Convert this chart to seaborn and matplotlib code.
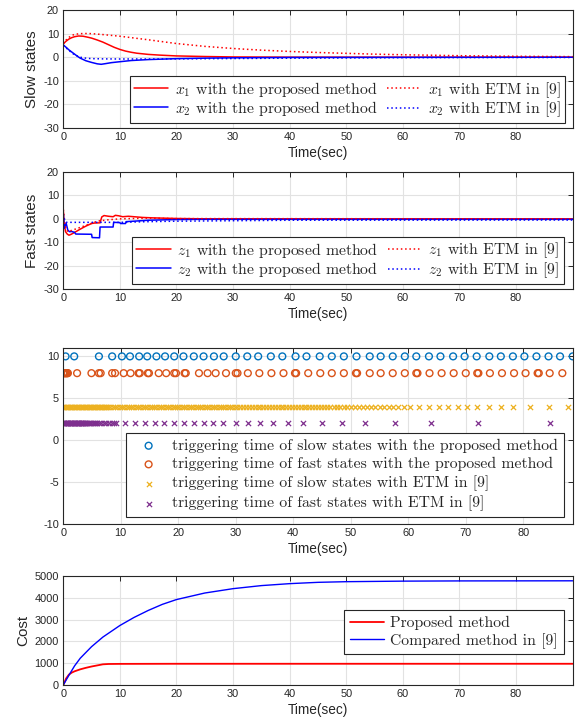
import matplotlib
matplotlib.use("Agg")
import matplotlib.pyplot as plt
import seaborn as sns

# ---------------- data ----------------
# Panel 1: slow states
t_x1_prop = [0, 0.5, 1, 1.5, 2, 2.7, 3.5, 4.3, 5, 6, 7, 8, 9, 10, 11, 12, 13, 14, 15, 17, 20, 25, 30, 40, 90]
x1_prop = [5.7, 6.8, 7.7, 8.3, 8.7, 9.0, 8.9, 8.5, 8.1, 7.3, 6.4, 5.3, 4.2, 3.3, 2.6, 2.1, 1.7, 1.45, 1.2, 0.9, 0.55, 0.3, 0.12, 0.03, 0.0]
t_x1_etm = [0, 0.5, 1, 1.5, 2, 3, 4, 5, 7, 10, 15, 20, 25, 30, 35, 40, 45, 50, 55, 60, 70, 80, 90]
x1_etm = [5.7, 7.3, 8.4, 9.2, 9.7, 10.0, 10.05, 10.0, 9.6, 8.9, 7.4, 5.8, 4.6, 3.7, 3.0, 2.45, 2.0, 1.65, 1.3, 1.05, 0.65, 0.4, 0.25]
t_x2_prop = [0, 0.5, 1, 1.5, 2, 2.5, 3, 4, 5, 6, 6.7, 7.5, 8.5, 10, 12, 15, 20, 25, 30, 40, 90]
x2_prop = [5.2, 4.2, 3.1, 2.2, 1.3, 0.4, -0.4, -1.5, -2.2, -2.8, -3.0, -2.7, -2.3, -1.9, -1.4, -1.0, -0.6, -0.4, -0.25, -0.1, 0.0]
t_x2_etm = [0, 0.5, 1, 1.5, 2, 3, 4, 5, 7, 10, 15, 20, 30, 40, 50, 60, 70, 90]
x2_etm = [5.2, 4.0, 2.9, 1.9, 1.0, 0.0, -0.4, -0.6, -0.7, -0.75, -0.75, -0.7, -0.55, -0.4, -0.3, -0.2, -0.15, -0.1]

# Panel 2: fast states
t_z1_prop = [0, 0.15, 0.4, 0.7, 1.0, 1.4, 2, 3, 4, 5, 5.5, 6.5, 6.8, 7.2, 8, 8.8, 9.2, 9.8, 10.5, 11.5, 12.5, 14, 16, 20, 25, 90]
z1_prop = [4.0, -2.0, -5.5, -6.5, -7.0, -6.6, -5.8, -4.4, -3.1, -2.0, -1.8, -1.7, 0.8, 1.4, 1.1, 0.9, 1.5, 1.3, 0.9, 1.1, 0.9, 0.6, 0.4, 0.15, 0.0, 0.0]
t_z1_etm = [0, 0.3, 0.8, 2, 4, 6, 8, 10, 15, 20, 90]
z1_etm = [4.0, -3.0, -5.5, -4.5, -2.8, -1.0, -0.4, 0.0, 0.3, 0.1, 0.0]
t_z2_prop = [0, 0.2, 0.5, 0.8, 1.1, 1.5, 2.0, 2.2, 5.0, 5.1, 6.4, 6.5, 8.8, 8.9, 10.0, 10.1, 11.0, 11.1, 12.5, 15, 20, 25, 90]
z2_prop = [2.0, -4.0, -1.8, -4.8, -5.5, -5.4, -5.8, -6.5, -6.6, -8.0, -8.1, -3.5, -3.5, -1.5, -1.6, -2.0, -2.0, -1.2, -1.0, -0.6, -0.3, -0.2, -0.2]
t_z2_etm = [0, 0.3, 0.6, 10, 15, 20, 30, 40, 90]
z2_etm = [2.0, -1.0, -1.5, -1.5, -1.2, -1.0, -0.8, -0.6, -0.5]

# Panel 3: triggering instants
trig_levels = [10, 8, 4, 2]
trig_slow_prop = [0.4, 1.9, 6.2, 8.5, 10.2, 11.6, 13.2, 14.6, 16.2, 17.7, 19.3, 20.9, 22.7, 24.4, 26.2, 27.9,
                  30.0, 32.0, 33.9, 36.1, 38.1, 40.4, 42.3, 44.6, 46.7, 48.8, 51.0, 53.3, 55.2, 57.3, 59.4,
                  61.4, 63.6, 65.6, 67.8, 69.8, 71.9, 74.1, 76.1, 78.2, 80.2, 82.3, 84.4, 86.4, 88.6]
trig_fast_prop = [0.0, 0.1, 0.2, 0.3, 0.4, 0.5, 0.6, 0.7, 0.8, 2.4, 4.9, 6.2, 6.5, 8.5, 9.0, 10.5, 11.7, 13.1,
                  13.3, 14.7, 14.9, 16.6, 17.9, 19.3, 19.6, 21.1, 21.3, 23.6, 25.1, 26.5, 28.3, 30.0, 30.3,
                  32.1, 34.1, 36.2, 38.3, 40.3, 40.5, 42.6, 44.7, 46.7, 48.8, 50.9, 51.1, 53.3, 55.2, 57.3,
                  59.4, 61.4, 61.6, 63.7, 65.8, 67.9, 70.0, 72.0, 72.2, 74.2, 76.3, 78.4, 80.4, 82.5, 82.7,
                  84.6, 86.8]
trig_slow_etm = [0.0, 0.2, 0.4, 0.6, 0.8, 1.0, 1.2, 1.4, 1.6, 1.8, 2.0, 2.2, 2.4, 2.6, 2.8, 3.0, 3.2, 3.4,
                 3.6, 3.8, 4.0, 4.2, 4.4, 4.6, 4.8, 5.0, 5.2, 5.4, 5.6, 5.8, 6.0, 6.2, 6.4, 6.6, 6.8, 7.0,
                 7.2, 7.4, 7.6, 7.8,
                 8.2, 8.6, 9.0, 9.4, 9.8, 10.2, 10.6, 11.0, 11.4, 11.8, 12.2, 12.6, 13.0, 13.4, 13.8, 14.2,
                 14.6, 15.0, 15.4, 15.8, 16.2, 16.6, 17.0, 17.4, 17.8, 18.2, 18.6, 19.0, 19.4, 19.8, 20.2,
                 20.6, 21.0, 21.4, 21.8, 22.2, 22.6, 23.0, 23.4, 23.8, 24.2, 24.6, 25.0, 25.4, 25.8, 26.2,
                 26.6, 27.0, 27.4, 27.8, 28.2, 28.6, 29.0, 29.4, 29.8,
                 30.3, 30.8, 31.3, 31.8, 32.3, 32.8, 33.3, 33.8, 34.3, 34.8, 35.3, 35.8, 36.3, 36.8, 37.3,
                 37.8, 38.3, 38.8, 39.3, 39.8, 40.3, 40.8, 41.3, 41.8, 42.3, 42.8, 43.3, 43.8, 44.3, 44.8,
                 45.3, 45.8, 46.4, 47.0, 47.6, 48.2, 48.8, 49.4,
                 50.0, 50.7, 51.4, 52.1, 52.8, 53.5, 54.2, 55.0, 55.8, 56.6, 57.4, 58.2, 59.2,
                 60.3, 61.9, 63.6, 65.3, 66.9, 68.7, 70.3, 72.0, 74.1, 76.2, 78.3, 81.2, 84.4, 87.8]
trig_fast_etm = [0.0, 0.1, 0.2, 0.3, 0.4, 0.5, 0.6, 0.7, 0.8, 0.9, 1.0, 1.1, 1.2, 1.3, 1.4, 1.5, 1.6, 1.7,
                 1.8, 1.9, 2.0, 2.1, 2.2, 2.3, 2.4, 2.5, 2.6, 2.7, 2.8, 2.9, 3.0, 3.1, 3.2, 3.3, 3.4, 3.5,
                 3.6, 3.7, 3.8, 3.9,
                 4.1, 4.3, 4.5, 4.7, 4.9, 5.1, 5.3, 5.5, 5.7, 5.9,
                 6.15, 6.6, 7.05, 7.5, 7.95, 8.4, 8.8,
                 9.2, 10.75, 12.5, 14.2, 15.9, 17.6, 19.3, 21.0, 22.7, 24.4, 26.1, 27.8, 30.1, 32.1, 34.2,
                 36.5, 39.0, 41.7, 45.0, 48.4, 52.4, 57.7, 64.0, 72.2, 84.7]

# Panel 4: cost
t_cost_prop = [0, 0.5, 1, 1.5, 2, 3, 4, 5, 6, 7, 8, 10, 20, 90]
cost_prop = [0, 300, 480, 570, 630, 720, 790, 850, 900, 950, 965, 970, 975, 975]
t_cost_comp = [0, 1, 2, 3, 5, 7, 10, 12.5, 15, 17.5, 20, 25, 30, 35, 40, 45, 50, 60, 70, 90]
cost_comp = [0, 450, 880, 1230, 1760, 2200, 2730, 3100, 3420, 3700, 3920, 4220, 4420, 4560, 4650, 4710, 4740, 4765, 4775, 4780]

x_ticks = [0, 10, 20, 30, 40, 50, 60, 70, 80]

# ---------------- style ----------------
sns.set_theme(style="white")
plt.rcParams.update({
    "font.family": ["Liberation Sans", "DejaVu Sans"],
    "mathtext.fontset": "cm",
    "axes.unicode_minus": False,
})

DARK = "#262626"
GRID = "#e2e2e2"

fig = plt.figure(figsize=(5.8, 7.22), dpi=100)
L, W = 0.1091, 0.8783
ax1 = fig.add_axes([L, 0.8227, W, 0.1634])
ax2 = fig.add_axes([L, 0.5997, W, 0.1620])
ax3 = fig.add_axes([L, 0.2742, W, 0.2438])
ax4 = fig.add_axes([L, 0.0512, W, 0.1510])


def style(ax, xmax, ylim, yticks, ylabel=None):
    ax.set_xlim(0, xmax)
    ax.set_ylim(*ylim)
    ax.set_xticks(x_ticks)
    ax.set_yticks(yticks)
    ax.grid(True, color=GRID, lw=0.8)
    ax.set_axisbelow(True)
    ax.tick_params(direction="in", top=True, right=True, length=3.5, width=0.7,
                   colors=DARK, labelsize=7.9, pad=3)
    for s in ax.spines.values():
        s.set_color(DARK)
        s.set_linewidth(0.8)
    ax.set_xlabel("Time(sec)", fontsize=9.8, color=DARK, labelpad=3)
    if ylabel:
        ax.set_ylabel(ylabel, fontsize=11, color=DARK, labelpad=3)
    else:
        ax.set_ylabel("")


def legend(ax, anchor, ncol=1, size=11.3, labelspacing=0.0, borderpad=0.25):
    leg = ax.legend(loc="lower right", bbox_to_anchor=anchor, borderaxespad=0, ncol=ncol,
                    prop={"family": "cmr10", "size": size}, frameon=True, fancybox=False,
                    framealpha=1, edgecolor=DARK, handlelength=2.2, handletextpad=0.4,
                    columnspacing=0.6, labelspacing=labelspacing, borderpad=borderpad)
    leg.get_frame().set_linewidth(0.8)
    return leg


DOT = (0, (1, 1.8))
LW = 1.1

# Panel 1
sns.lineplot(x=t_x1_prop, y=x1_prop, ax=ax1, color="red", lw=LW, estimator=None,
             label=r"$x_1$ with the proposed method")
sns.lineplot(x=t_x2_prop, y=x2_prop, ax=ax1, color="blue", lw=LW, estimator=None,
             label=r"$x_2$ with the proposed method")
sns.lineplot(x=t_x1_etm, y=x1_etm, ax=ax1, color="red", lw=LW, linestyle=DOT, estimator=None,
             label=r"$x_1$ with ETM in [9]")
sns.lineplot(x=t_x2_etm, y=x2_etm, ax=ax1, color="blue", lw=LW, linestyle=DOT, estimator=None,
             label=r"$x_2$ with ETM in [9]")
style(ax1, 90, (-30, 20), [-30, -20, -10, 0, 10, 20], "Slow states")
legend(ax1, (0.984, 0.042), ncol=2)

# Panel 2
sns.lineplot(x=t_z1_prop, y=z1_prop, ax=ax2, color="red", lw=LW, estimator=None,
             label=r"$z_1$ with the proposed method")
sns.lineplot(x=t_z2_prop, y=z2_prop, ax=ax2, color="blue", lw=LW, estimator=None,
             label=r"$z_2$ with the proposed method")
sns.lineplot(x=t_z1_etm, y=z1_etm, ax=ax2, color="red", lw=LW, linestyle=DOT, estimator=None,
             label=r"$z_1$ with ETM in [9]")
sns.lineplot(x=t_z2_etm, y=z2_etm, ax=ax2, color="blue", lw=LW, linestyle=DOT, estimator=None,
             label=r"$z_2$ with ETM in [9]")
style(ax2, 90, (-30, 20), [-30, -20, -10, 0, 10, 20], "Fast states")
legend(ax2, (0.982, 0.043), ncol=2)

# Panel 3
sns.scatterplot(x=trig_slow_prop, y=[trig_levels[0]] * len(trig_slow_prop), ax=ax3, marker="o",
                s=24, facecolor="none", edgecolor="#0072BD", linewidth=1.0,
                label="triggering time of slow states with the proposed method")
sns.scatterplot(x=trig_fast_prop, y=[trig_levels[1]] * len(trig_fast_prop), ax=ax3, marker="o",
                s=24, facecolor="none", edgecolor="#D95319", linewidth=1.0,
                label="triggering time of fast states with the proposed method")
sns.scatterplot(x=trig_slow_etm, y=[trig_levels[2]] * len(trig_slow_etm), ax=ax3, marker="x",
                s=14, color="#EDB120", linewidth=0.9,
                label="triggering time of slow states with ETM in [9]")
sns.scatterplot(x=trig_fast_etm, y=[trig_levels[3]] * len(trig_fast_etm), ax=ax3, marker="x",
                s=14, color="#7E2F8E", linewidth=0.9,
                label="triggering time of fast states with ETM in [9]")
style(ax3, 88.6, (-10, 11), [-10, -5, 0, 5, 10])
legend(ax3, (0.982, 0.04), labelspacing=0.28, borderpad=0.35)

# Panel 4
sns.lineplot(x=t_cost_prop, y=cost_prop, ax=ax4, color="red", lw=1.3, estimator=None,
             label="Proposed method")
sns.lineplot(x=t_cost_comp, y=cost_comp, ax=ax4, color="blue", lw=1.0, estimator=None,
             label="Compared method in [9]")
style(ax4, 90, (0, 5000), [0, 1000, 2000, 3000, 4000, 5000], "Cost")
legend(ax4, (0.982, 0.282), labelspacing=0.2, borderpad=0.35)

fig.savefig("out.png", dpi=100)
